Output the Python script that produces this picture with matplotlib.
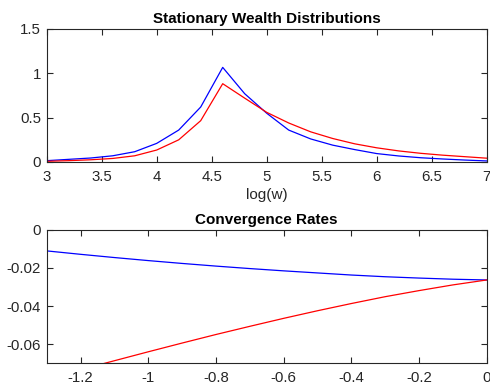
import matplotlib
matplotlib.use('Agg')
import matplotlib.pyplot as plt
from matplotlib.ticker import FuncFormatter

# stationary wealth distributions (log wealth grid)
log_w = [3.0, 3.2, 3.4, 3.6, 3.8, 4.0, 4.2, 4.4, 4.6, 4.8, 5.0,
         5.2, 5.4, 5.6, 5.8, 6.0, 6.2, 6.4, 6.6, 6.8, 7.0]
dist_blue = [0.015, 0.03, 0.045, 0.07, 0.116, 0.21, 0.36, 0.62, 1.067, 0.77, 0.55,
             0.36, 0.26, 0.19, 0.14, 0.095, 0.068, 0.048, 0.034, 0.022, 0.012]
dist_red = [0.008, 0.015, 0.025, 0.04, 0.07, 0.135, 0.25, 0.466, 0.883, 0.72, 0.56,
            0.44, 0.34, 0.265, 0.205, 0.16, 0.125, 0.098, 0.077, 0.06, 0.043]

# convergence rates
rate_x = [-1.3, -1.2, -1.1, -1.0, -0.9, -0.8, -0.7, -0.6, -0.5, -0.4, -0.3, -0.2, -0.1, 0.0]
rate_blue = [-0.011, -0.0128, -0.0145, -0.0161, -0.0176, -0.019, -0.0203, -0.0215,
             -0.0226, -0.0237, -0.0246, -0.0253, -0.0259, -0.0263]
rate_red = [-0.0785, -0.0735, -0.0688, -0.0641, -0.0595, -0.055, -0.0507, -0.0465,
            -0.0425, -0.0387, -0.0351, -0.0319, -0.0289, -0.0263]

plt.rcParams['font.family'] = ['Liberation Sans', 'DejaVu Sans']
axcol = '#262626'

fig = plt.figure(figsize=(4.9, 3.87), dpi=100)
ax1 = fig.add_axes([0.0953, 0.5814, 0.898, 0.3437])
ax2 = fig.add_axes([0.0953, 0.062, 0.898, 0.3437])

fmt = FuncFormatter(lambda v, p: '%g' % round(v, 6))


def style(ax):
    for s in ax.spines.values():
        s.set_color(axcol)
        s.set_linewidth(0.8)
    ax.tick_params(direction='in', top=True, right=True, length=4, width=0.8,
                   color=axcol, labelcolor=axcol, labelsize=10.8)
    ax.tick_params(axis='x', pad=6)
    ax.tick_params(axis='y', pad=4)
    ax.xaxis.set_major_formatter(fmt)
    ax.yaxis.set_major_formatter(fmt)


ax1.plot(log_w, dist_blue, color='blue', lw=0.9)
ax1.plot(log_w, dist_red, color='red', lw=0.9)
ax1.set_xlim(3, 7)
ax1.set_ylim(0, 1.5)
ax1.set_yticks([0, 0.5, 1, 1.5])
ax1.set_xticks([3, 3.5, 4, 4.5, 5, 5.5, 6, 6.5, 7])
ax1.set_xlabel('log(w)', fontsize=11, color=axcol, labelpad=3)
ax1.set_title('Stationary Wealth Distributions', fontsize=11, fontweight='bold', pad=4)
style(ax1)

ax2.plot(rate_x, rate_blue, color='blue', lw=0.9)
ax2.plot(rate_x, rate_red, color='red', lw=0.9)
ax2.set_xlim(-1.3, 0)
ax2.set_ylim(-0.07, 0)
ax2.set_yticks([-0.06, -0.04, -0.02, 0])
ax2.set_xticks([-1.2, -1, -0.8, -0.6, -0.4, -0.2, 0])
ax2.set_title('Convergence Rates', fontsize=11, fontweight='bold', pad=4)
style(ax2)

fig.savefig('out.png', dpi=100)
